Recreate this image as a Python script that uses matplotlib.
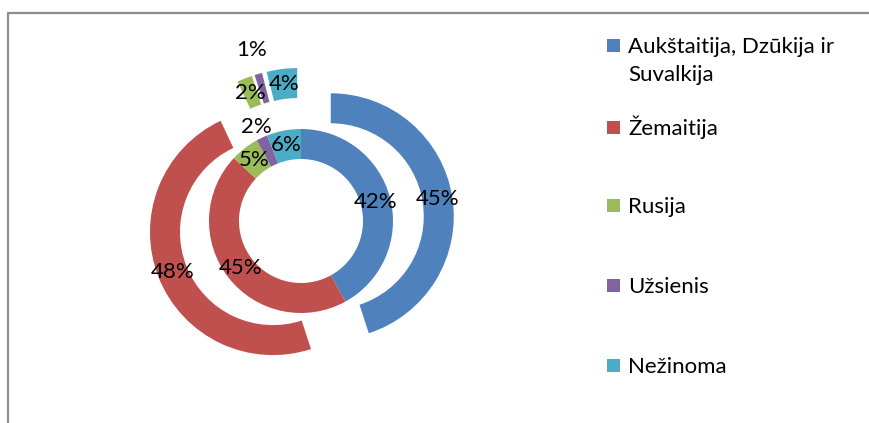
import matplotlib.pyplot as plt
from matplotlib.patches import Rectangle
from matplotlib.lines import Line2D
import numpy as np

plt.rcParams.update({'font.family': ['Lato', 'DejaVu Sans']})

categories = ['Aukštaitija, Dzūkija ir', 'Žemaitija', 'Rusija', 'Užsienis', 'Nežinoma']
inner_pct = [42, 45, 5, 2, 6]
outer_pct = [45, 48, 2, 1, 4]
colors = ['#4F81BD', '#C0504D', '#9BBB59', '#8064A2', '#4BACC6']

W, H = 870, 423
fig = plt.figure(figsize=(W / 100, H / 100), dpi=100)

# pie axes: centre at (301, 221) px, outer ring radius 123 px = 1 unit
cx, cy, half = 301, 221, 180
ax = fig.add_axes([(cx - half) / W, (H - cy - half) / H, 2 * half / W, 2 * half / H])

width = 30 / 123
r_in = 92 / 123
fs = 16

# inner ring (not exploded)
_, _, at_in = ax.pie(inner_pct, radius=r_in, startangle=90, counterclock=False,
                     colors=colors, wedgeprops=dict(width=width, linewidth=0),
                     autopct='%.0f%%', pctdistance=77 / 92,
                     textprops=dict(fontsize=fs, color='black'))

# outer ring, every slice exploded
_, _, at_out = ax.pie(outer_pct, radius=1.0, startangle=90, counterclock=False,
                      colors=colors, explode=[0.245] * len(outer_pct),
                      wedgeprops=dict(width=width, linewidth=0),
                      autopct='%.0f%%', pctdistance=108 / 123,
                      textprops=dict(fontsize=fs, color='black'))

lim = half / 123
ax.set_xlim(-lim, lim)
ax.set_ylim(-lim, lim)
ax.set_aspect('equal')
ax.axis('off')

# small labels pushed out along their bisector (as Excel does)
def push(txt, centre, factor):
    x, y = txt.get_position()
    txt.set_position((centre[0] + (x - centre[0]) * factor,
                      centre[1] + (y - centre[1]) * factor))

push(at_in[3], (0, 0), 104 / 77)
ang = np.deg2rad(90 - 360 * (sum(outer_pct[:3]) + outer_pct[3] / 2) / 100)
oc = (0.245 * np.cos(ang), 0.245 * np.sin(ang))
push(at_out[3], oc, 148 / 108)

# legend
leg_y = [45, 127, 205, 285, 365]
for name, col, y in zip(categories, colors, leg_y):
    fig.patches.append(Rectangle((607 / W, (H - y - 7) / H), 13 / W, 13 / H,
                                 transform=fig.transFigure, facecolor=col, edgecolor='none'))
    fig.text(628 / W, (H - y - 8) / H, name, fontsize=fs, va='baseline')
fig.text(628 / W, (H - 73 - 8) / H, 'Suvalkija', fontsize=fs, va='baseline')

# chart area border (cut off on right and bottom)
fig.lines.append(Line2D([8.5 / W, 8.5 / W, 1.0], [0, (H - 13) / H, (H - 13) / H],
                        transform=fig.transFigure, color='#8C8C8C', linewidth=1.6))

plt.savefig('out.png', dpi=100)
